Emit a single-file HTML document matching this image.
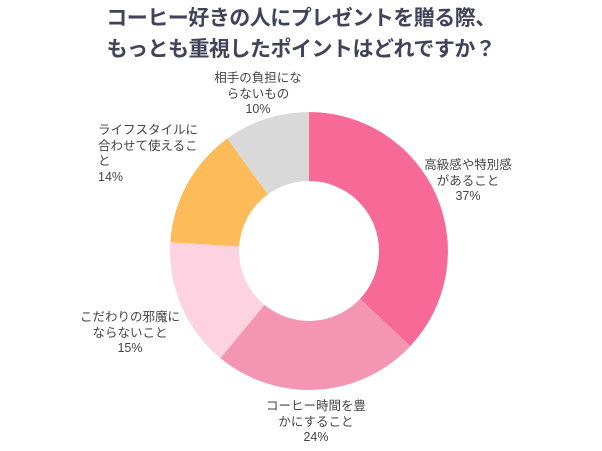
<!DOCTYPE html>
<html><head><meta charset="utf-8"><style>
body{margin:0;background:#fff;width:602px;height:451px;overflow:hidden;font-family:"Liberation Sans","Noto Sans CJK JP",sans-serif}
.t{position:absolute;left:0;width:602px;text-align:center;font-weight:bold;font-size:21px;color:#40435a;letter-spacing:-0.5px}
.l{position:absolute;font-size:12.5px;color:#444;line-height:15.5px;white-space:nowrap}
</style></head><body>
<div class="t" style="top:2px">コーヒー好きの人にプレゼントを贈る際、</div>
<div class="t" style="top:33px">もっとも重視したポイントはどれですか？</div>
<svg width="602" height="451" style="position:absolute;left:0;top:0">
<path d="M309,112 A139,139 0 0 1 410.3,346.1 L360,298.9 A70,70 0 0 0 309,181 Z" fill="#f76a97"/>
<path d="M410.3,346.1 A139,139 0 0 1 220.4,358.1 L264.4,304.9 A70,70 0 0 0 360,298.9 Z" fill="#f495b3"/>
<path d="M220.4,358.1 A139,139 0 0 1 170.3,242.3 L239.1,246.6 A70,70 0 0 0 264.4,304.9 Z" fill="#fdd3e2"/>
<path d="M170.3,242.3 A139,139 0 0 1 227.3,138.5 L267.9,194.4 A70,70 0 0 0 239.1,246.6 Z" fill="#fdbb5a"/>
<path d="M227.3,138.5 A139,139 0 0 1 309,112 L309,181 A70,70 0 0 0 267.9,194.4 Z" fill="#d9d9d9"/>
</svg>
<div class="l" style="left:208px;top:71px;width:100px;text-align:center">相手の負担にな<br>らないもの<br>10%</div>
<div class="l" style="left:420px;top:158px;width:96px;text-align:center">高級感や特別感<br>があること<br>37%</div>
<div class="l" style="left:98px;top:123px">ライフスタイルに<br>合わせて使えるこ<br>と<br>14%</div>
<div class="l" style="left:80px;top:310px;width:100px;text-align:center">こだわりの邪魔に<br>ならないこと<br>15%</div>
<div class="l" style="left:266px;top:399px;width:100px;text-align:center">コーヒー時間を豊<br>かにすること<br>24%</div>
</body></html>
